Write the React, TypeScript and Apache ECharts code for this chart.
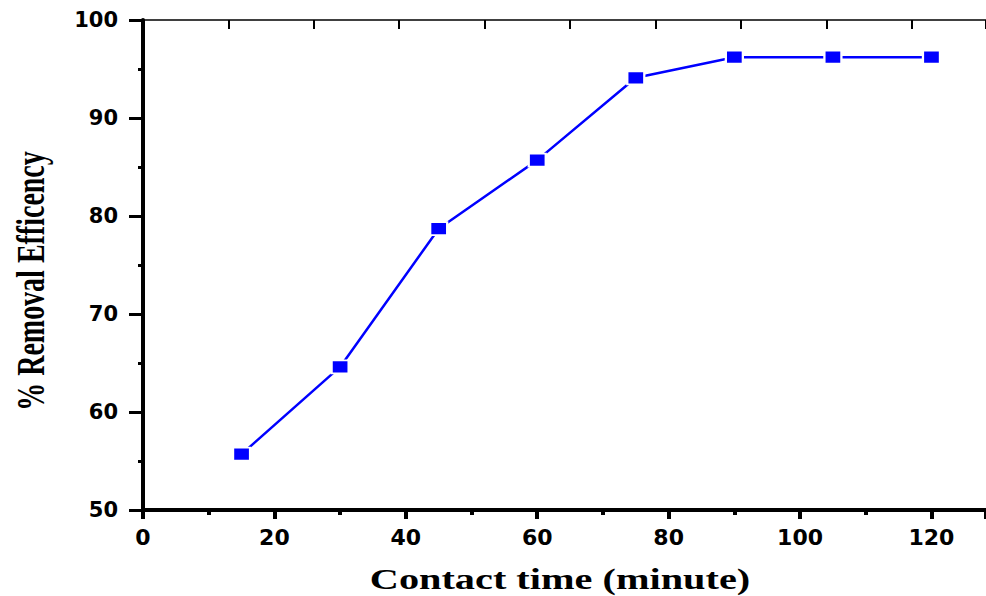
import React, { useEffect, useRef } from "react";
import * as echarts from "echarts";

const contactTime = [15, 30, 45, 60, 75, 90, 105, 120];
const removalEfficiency = [55.7, 64.6, 78.7, 85.7, 94.1, 96.2, 96.2, 96.2];
const xTitle = "Contact time (minute)";
const yTitle = "% Removal Efficency";

export default function App() {
  const ref = useRef<HTMLDivElement>(null);
  useEffect(() => {
    if (!ref.current) return;
    const chart = echarts.init(ref.current, undefined, { renderer: "svg" });
    const data = contactTime.map((x, i) => [x, removalEfficiency[i]]);
    chart.setOption({
      animation: false,
      backgroundColor: "#ffffff",
      grid: { left: 143, top: 20, right: 0, height: 490, containLabel: false },
      xAxis: [
        {
          type: "value",
          position: "bottom",
          min: 0,
          max: 128.3,
          interval: 20,
          axisLine: { show: true, onZero: false, lineStyle: { color: "#000", width: 4 } },
          axisTick: { show: true, inside: false, length: 9, lineStyle: { color: "#000", width: 4 } },
          minorTick: { show: true, splitNumber: 2, length: 5, lineStyle: { color: "#000", width: 4 } },
          splitLine: { show: false },
          axisLabel: {
            show: true,
            margin: 16,
            color: "#000",
            fontFamily: "DejaVu Sans",
            fontWeight: "bold",
            fontSize: 22,
            showMaxLabel: false,
          },
        },
        {
          type: "value",
          position: "top",
          min: 0,
          max: 9.87,
          interval: 1,
          axisLine: { show: true, onZero: false, lineStyle: { color: "#000", width: 1.5 } },
          axisTick: { show: true, inside: true, length: 9, lineStyle: { color: "#000", width: 2 } },
          splitLine: { show: false },
          axisLabel: { show: false },
        },
      ],
      yAxis: [
        {
          type: "value",
          position: "left",
          min: 50,
          max: 100,
          interval: 10,
          axisLine: { show: true, onZero: false, lineStyle: { color: "#000", width: 4 } },
          axisTick: { show: true, inside: false, length: 14, lineStyle: { color: "#000", width: 3 } },
          minorTick: { show: true, splitNumber: 2, length: 5, lineStyle: { color: "#000", width: 3 } },
          splitLine: { show: false },
          axisLabel: {
            show: true,
            margin: 25,
            color: "#000",
            fontFamily: "DejaVu Sans",
            fontWeight: "bold",
            fontSize: 21,
          },
        },
        {
          type: "value",
          position: "right",
          min: 50,
          max: 100,
          interval: 10,
          axisLine: { show: false },
          axisTick: { show: true, inside: true, length: 7, lineStyle: { color: "#000", width: 2 } },
          splitLine: { show: false },
          axisLabel: { show: false },
        },
      ],
      graphic: [
        {
          type: "text",
          x: 560,
          y: 580,
          scaleX: 1.55,
          scaleY: 1.1,
          style: {
            text: xTitle,
            fill: "#000",
            font: "bold 26px 'Liberation Serif'",
            textAlign: "center",
            textVerticalAlign: "middle",
          },
        },
        {
          type: "text",
          x: 31,
          y: 281,
          rotation: Math.PI / 2,
          scaleY: 1.4,
          style: {
            text: yTitle,
            fill: "#000",
            font: "bold 28px 'Liberation Serif'",
            textAlign: "center",
            textVerticalAlign: "middle",
          },
        },
      ],
      series: [
        {
          type: "line",
          xAxisIndex: 0,
          yAxisIndex: 0,
          data,
          symbol: "rect",
          symbolSize: [17, 13],
          lineStyle: { color: "#0000ff", width: 2.5 },
          itemStyle: { color: "#0000ff", borderColor: "#ffffff", borderWidth: 2 },
          emphasis: { disabled: true },
        },
      ],
    });
    return () => chart.dispose();
  }, []);
  return (
    <div
      ref={ref}
      style={{ position: "fixed", left: 0, top: 0, width: 986, height: 596, background: "#fff" }}
    />
  );
}
